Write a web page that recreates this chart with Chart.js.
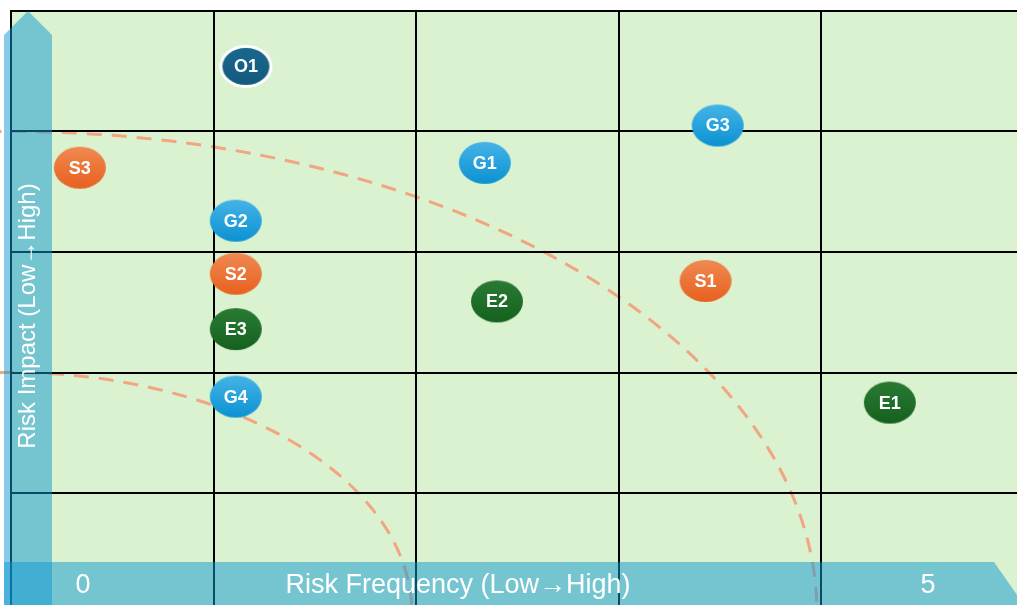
<!DOCTYPE html>
<html>
<head>
<meta charset="utf-8">
<script src="https://cdn.jsdelivr.net/npm/chart.js@4/dist/chart.umd.min.js"></script>
<style>
  html, body { margin: 0; padding: 0; overflow: hidden; background: #ffffff; width: 1017px; height: 605px; }
  #wrap { position: absolute; left: 0; top: 0; width: 1034px; height: 624px; }
</style>
</head>
<body>
<div id="wrap"><canvas id="c" width="1034" height="624"></canvas></div>
<script>
// Axis texts
const X_TITLE = 'Risk Frequency (Low\u2192High)';
const Y_TITLE = 'Risk Impact (Low\u2192High)';
const X_END_LABELS = ['0', '5'];

// Scale range and risk band boundaries (quarter ellipses around the origin)
const SCALE_MAX = 5;
const RISK_BANDS = [2, 4];

// Risk items, grouped by category
const G_LABELS = ['G1', 'G2', 'G3', 'G4'];
const G_X = [2.34, 1.11, 3.49, 1.11];
const G_Y = [3.74, 3.26, 4.05, 1.80];

const S_LABELS = ['S1', 'S2', 'S3'];
const S_X = [3.43, 1.11, 0.34];
const S_Y = [2.76, 2.82, 3.70];

const E_LABELS = ['E1', 'E2', 'E3'];
const E_X = [4.34, 2.40, 1.11];
const E_Y = [1.75, 2.59, 2.36];

const O_LABELS = ['O1'];
const O_X = [1.16];
const O_Y = [4.54];

function points(xs, ys) { return xs.map((x, i) => ({ x: x, y: ys[i] })); }

// Ellipse marker image with a soft top-to-bottom shade
function bubble(top, bottom, w, h, ring) {
  const c = document.createElement('canvas');
  c.width = w + 4; c.height = h + 4;
  const g = c.getContext('2d');
  const grad = g.createLinearGradient(0, 2, 0, h + 2);
  grad.addColorStop(0, top);
  grad.addColorStop(1, bottom);
  g.beginPath();
  if (ring) {
    g.ellipse(c.width / 2, c.height / 2, w / 2 - 1.5, h / 2 - 1.5, 0, 0, Math.PI * 2);
  } else {
    g.ellipse(c.width / 2, c.height / 2, w / 2, h / 2, 0, 0, Math.PI * 2);
  }
  g.fillStyle = grad;
  g.fill();
  if (ring) {
    g.lineWidth = 3;
    g.strokeStyle = '#ffffff';
    g.stroke();
  }
  return c;
}

const IMG_G = bubble('#45b4e8', '#0b92d2', 52, 42, false);
const IMG_S = bubble('#f08a52', '#e8611f', 52, 42, false);
const IMG_E = bubble('#2a7a34', '#15621f', 52, 42, false);
const IMG_O = bubble('#1b6890', '#135a7c', 53, 43, true);

const BAR_FILL = 'rgba(15,151,209,0.5)';

const backdrop = {
  id: 'backdrop',
  beforeDatasetsDraw(chart) {
    const ctx = chart.ctx;
    const a = chart.chartArea;
    const xs = chart.scales.x, ys = chart.scales.y;
    ctx.save();
    ctx.fillStyle = '#ffffff';
    ctx.fillRect(0, 0, chart.width, chart.height);
    ctx.fillStyle = '#daf2d0';
    ctx.fillRect(a.left, a.top, chart.width - a.left, chart.height - a.top);

    // risk bands
    const ox = xs.getPixelForValue(0), oy = ys.getPixelForValue(0);
    ctx.strokeStyle = '#f2a581';
    ctx.lineWidth = 3;
    ctx.setLineDash([15, 10]);
    RISK_BANDS.forEach(r => {
      const rx = xs.getPixelForValue(r) - ox - 4;
      const ry = oy - ys.getPixelForValue(r);
      ctx.beginPath();
      ctx.ellipse(ox, oy, rx, ry, 0, -Math.PI / 2 - 0.03, 0);
      ctx.stroke();
    });
    ctx.setLineDash([]);

    // grid
    ctx.strokeStyle = '#000000';
    ctx.lineWidth = 2;
    for (let i = 0; i <= SCALE_MAX; i++) {
      const px = Math.round(xs.getPixelForValue(i));
      ctx.beginPath();
      ctx.moveTo(px, a.top - 1);
      ctx.lineTo(px, chart.height);
      ctx.stroke();
      const py = Math.round(ys.getPixelForValue(i));
      ctx.beginPath();
      ctx.moveTo(a.left - 1, py);
      ctx.lineTo(chart.width, py);
      ctx.stroke();
    }

    // axis arrows
    ctx.fillStyle = BAR_FILL;
    ctx.beginPath();
    ctx.moveTo(4, 35);
    ctx.lineTo(28, 11);
    ctx.lineTo(52, 35);
    ctx.lineTo(52, chart.height);
    ctx.lineTo(4, chart.height);
    ctx.closePath();
    ctx.fill();

    ctx.beginPath();
    ctx.moveTo(4, 562);
    ctx.lineTo(994, 562);
    ctx.lineTo(1024, 605);
    ctx.lineTo(994, 648);
    ctx.lineTo(4, 648);
    ctx.closePath();
    ctx.fill();
    ctx.restore();
  },
  afterDatasetsDraw(chart) {
    const ctx = chart.ctx;
    ctx.save();
    ctx.fillStyle = '#ffffff';
    ctx.textAlign = 'center';
    ctx.textBaseline = 'middle';
    ctx.font = 'bold 18px "Liberation Sans", Arial, sans-serif';
    chart.data.datasets.forEach((ds, di) => {
      const meta = chart.getDatasetMeta(di);
      meta.data.forEach((pt, i) => {
        ctx.fillText(ds.itemLabels[i], pt.x, pt.y + 1);
      });
    });

    ctx.font = '27px "Liberation Sans", Arial, sans-serif';
    ctx.fillText(X_TITLE, 458, 586);
    ctx.fillText(X_END_LABELS[0], 83, 586);
    ctx.fillText(X_END_LABELS[1], 928, 586);

    ctx.translate(28, 316);
    ctx.rotate(-Math.PI / 2);
    ctx.font = '24px "Liberation Sans", Arial, sans-serif';
    ctx.fillText(Y_TITLE, 0, 0);
    ctx.restore();
  }
};

function series(labels, xs, ys, img) {
  return {
    data: points(xs, ys),
    itemLabels: labels,
    pointStyle: img,
    pointRadius: 26,
    pointHoverRadius: 26,
    backgroundColor: 'transparent',
    borderWidth: 0,
    clip: false
  };
}

new Chart(document.getElementById('c'), {
  type: 'scatter',
  data: {
    datasets: [
      series(G_LABELS, G_X, G_Y, IMG_G),
      series(S_LABELS, S_X, S_Y, IMG_S),
      series(E_LABELS, E_X, E_Y, IMG_E),
      series(O_LABELS, O_X, O_Y, IMG_O)
    ]
  },
  options: {
    responsive: false,
    animation: false,
    events: [],
    layout: { autoPadding: false, padding: { left: 11, top: 11, right: 10.5, bottom: 10.5 } },
    plugins: { legend: { display: false }, tooltip: { enabled: false } },
    scales: {
      x: { type: 'linear', min: 0, max: SCALE_MAX, display: false },
      y: { type: 'linear', min: 0, max: SCALE_MAX, display: false }
    }
  },
  plugins: [backdrop]
});
</script>
</body>
</html>
